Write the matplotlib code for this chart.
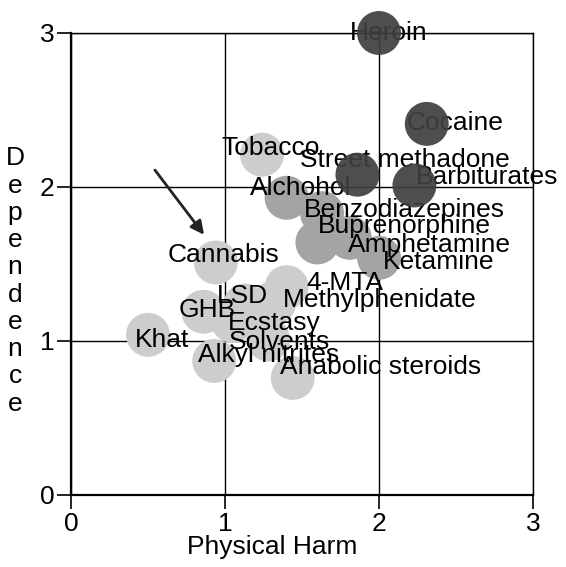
import matplotlib.pyplot as plt

plt.rcParams['font.family'] = ['Liberation Sans', 'DejaVu Sans']

# Данные: физический вред и зависимость
drugs = ["Heroin", "Cocaine", "Tobacco", "Street methadone", "Barbiturates",
         "Alchohol", "Benzodiazepines", "Buprenorphine", "Amphetamine", "Ketamine",
         "Cannabis", "LSD", "4-MTA", "Methylphenidate", "GHB", "Ecstasy",
         "Khat", "Solvents", "Alkyl nitrites", "Anabolic steroids"]
physical_harm = [2.00, 2.31, 1.24, 1.86, 2.23,
                 1.40, 1.63, 1.60, 1.81, 2.00,
                 0.94, 1.13, 1.40, 1.32, 0.86, 1.05,
                 0.50, 1.28, 0.93, 1.44]
dependence = [3.00, 2.41, 2.21, 2.08, 2.01,
              1.93, 1.83, 1.64, 1.67, 1.54,
              1.51, 1.23, 1.35, 1.25, 1.19, 1.13,
              1.04, 1.01, 0.87, 0.76]
harm_group = ["high", "high", "low", "high", "high",
              "mid", "mid", "mid", "mid", "mid",
              "low", "low", "low", "low", "low", "low",
              "low", "low", "low", "low"]

ticks = [0, 1, 2, 3]
arrow_tail = (0.545, 2.11)
arrow_head = (0.864, 1.69)

# Стиль
group_colors = {"high": "#3f3f3f", "mid": "#a4a4a4", "low": "#cdcdcd"}
group_zorder = {"high": 4, "mid": 2, "low": 2}
label_offsets = {  # смещения подписей в пикселях
    "Heroin": (10, 0), "Cocaine": (28, 1), "Tobacco": (9, 7),
    "Street methadone": (47, 15), "Barbiturates": (73, 8),
    "Alchohol": (14, 10), "Benzodiazepines": (82, 3), "Buprenorphine": (87, 16),
    "Amphetamine": (80, -7), "Ketamine": (60, -4), "Cannabis": (8, 7),
    "LSD": (-3, 10), "4-MTA": (58, 4), "Methylphenidate": (105, 3),
    "GHB": (4, 2), "Ecstasy": (42, -2), "Khat": (14, -5), "Solvents": (11, -3),
    "Alkyl nitrites": (54, 6), "Anabolic steroids": (88, 11),
}

fig = plt.figure(figsize=(5.66, 5.67), dpi=100)
ax = fig.add_axes([71 / 566, 1 - 495 / 567, 462 / 566, 462 / 567])

for name, x, y, g in zip(drugs, physical_harm, dependence, harm_group):
    ax.scatter(x, y, s=1000, color=group_colors[g], edgecolors='none',
               alpha=0.92 if g == "high" else 1.0,
               zorder=group_zorder[g], clip_on=False)
    dx, dy = label_offsets[name]
    ax.annotate(name, (x, y), xytext=(dx, dy), textcoords='offset pixels',
                ha='center', va='center', fontsize=19, color='black', zorder=3,
                annotation_clip=False)

ax.annotate('', xy=arrow_head, xytext=arrow_tail,
            arrowprops=dict(arrowstyle='-|>', color='#222222', lw=2,
                            mutation_scale=20, shrinkA=0, shrinkB=0))

ax.set_xlim(0, 3)
ax.set_ylim(0, 3)
ax.set_xticks(ticks)
ax.set_yticks(ticks)
ax.grid(True, color='black', lw=1)
ax.set_axisbelow(True)
for side in ['left', 'bottom']:
    ax.spines[side].set_linewidth(1.6)
for side in ['top', 'right']:
    ax.spines[side].set_linewidth(1.0)
ax.tick_params(direction='out', length=10, width=1.2, pad=2, labelsize=19)

ax.set_xlabel('Physical Harm', fontsize=19)
ax.xaxis.set_label_coords(0.435, -0.087)
fig.text(15 / 566, 1 - 281 / 567, "\n".join("Dependence"), ha='center', va='center',
         fontsize=19, linespacing=1.17)

fig.savefig('out.png', dpi=100)
plt.close()
